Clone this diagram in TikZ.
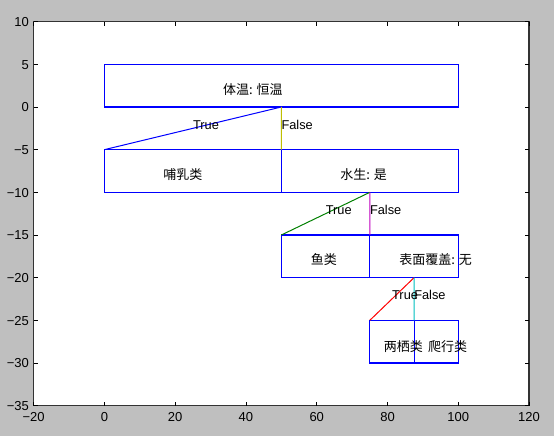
\documentclass[tikz,border=0pt]{standalone}
\usepackage{fontspec}
\setmainfont{Liberation Sans}
\newfontfamily\cjk{Noto Sans CJK SC}
\definecolor{figbg}{RGB}{191,191,191}
\definecolor{mplb}{RGB}{0,0,255}
\definecolor{mply}{RGB}{191,191,0}
\definecolor{mplg}{RGB}{0,128,0}
\definecolor{mplm}{RGB}{191,0,191}
\definecolor{mplr}{RGB}{255,0,0}
\definecolor{mplc}{RGB}{0,191,191}
\tikzset{
  treebox/.style={draw=mplb, line width=1.1pt, rectangle, inner sep=0pt, outer sep=0pt, anchor=north west},
  boxtext/.style={anchor=base west, inner sep=0pt, font=\cjk\fontsize{13}{15}\selectfont},
  edgetext/.style={anchor=base west, inner sep=0pt, font=\fontsize{12.8}{15}\selectfont},
  ticklab/.style={inner sep=0pt, font=\fontsize{13}{15}\selectfont},
  edge/.style={line width=1pt},
}
\begin{document}
\begin{tikzpicture}[x=1pt,y=1pt]
\fill[figbg] (0,0) rectangle (554,436);
\useasboundingbox (0,0) rectangle (554,436);
\begin{scope}[shift={(104.4pt,329pt)}, x=3.539pt, y=8.533pt]
\fill[white] (-20,-35) rectangle (120,10);
% boxes
\node[treebox, minimum width=353.9pt, minimum height=42.665pt] (b1) at (0,5) {};
\node[treebox, minimum width=176.95pt, minimum height=42.665pt] (b2) at (0,-5) {};
\node[treebox, minimum width=176.95pt, minimum height=42.665pt] (b3) at (50,-5) {};
\node[treebox, minimum width=88.475pt, minimum height=42.665pt] (b4) at (50,-15) {};
\node[treebox, minimum width=88.475pt, minimum height=42.665pt] (b5) at (75,-15) {};
\node[treebox, minimum width=44.24pt, minimum height=42.665pt] (b6) at (75,-25) {};
\node[treebox, minimum width=44.24pt, minimum height=42.665pt] (b7) at (87.5,-25) {};
% connectors
\draw[edge, mplb] (b1.south) -- (b2.north west);
\draw[edge, mply] (b1.south) -- (b3.north west);
\draw[edge, mplg] (b3.south) -- (b4.north west);
\draw[edge, mplm] (b3.south) -- (b5.north west);
\draw[edge, mplr] (b5.south) -- (b6.north west);
\draw[edge, mplc] (b5.south) -- (b7.north west);
% box texts
\node[boxtext] (t1) at (33.5,1.5) {体温: 恒温};
\node[boxtext] (t2) at (16.6,-8.5) {哺乳类};
\node[boxtext] (t3) at (66.6,-8.5) {水生: 是};
\node[boxtext] (t4) at (58.3,-18.5) {鱼类};
\node[boxtext] (t5) at (83.3,-18.5) {表面覆盖: 无};
\node[boxtext] (t6) at (78.9,-28.6) {两栖类};
\node[boxtext] (t7) at (91.4,-28.6) {爬行类};
% edge labels
\node[edgetext] (e1) at (25,-2.6) {True};
\node[edgetext] (e2) at (50,-2.6) {False};
\node[edgetext] (e3) at (62.5,-12.6) {True};
\node[edgetext] (e4) at (75,-12.6) {False};
\node[edgetext] (e5) at (81.25,-22.6) {True};
\node[edgetext] (e6) at (87.5,-22.6) {False};
% axes frame and ticks
\draw[black!80, line width=1.2pt] (-20,-35) rectangle (120,10);
\foreach \v in {-20,0,...,120}{
  \draw[black, line width=0.8pt] (\v,-35) -- ++(0,0.469);
  \draw[black, line width=0.8pt] (\v,10) -- ++(0,-0.469);
}
\foreach \v in {-35,-30,...,10}{
  \draw[black, line width=0.8pt] (-20,\v) -- ++(1.13,0);
  \draw[black, line width=0.8pt] (120,\v) -- ++(-1.13,0);
}
\foreach \v/\t [count=\k] in {-20/−20,0/0,20/20,40/40,60/60,80/80,100/100,120/120}{
  \node[ticklab, anchor=base, yshift=-16.3pt] (xl\k) at (\v,-35) {\t};
}
\foreach \v/\t [count=\k] in {-35/−35,-30/−30,-25/−25,-20/−20,-15/−15,-10/−10,-5/−5,0/0,5/5,10/10}{
  \node[ticklab, anchor=base east, xshift=-4.5pt, yshift=-4.7pt] (yl\k) at (-20,\v) {\t};
}
\end{scope}
\end{tikzpicture}
\end{document}
